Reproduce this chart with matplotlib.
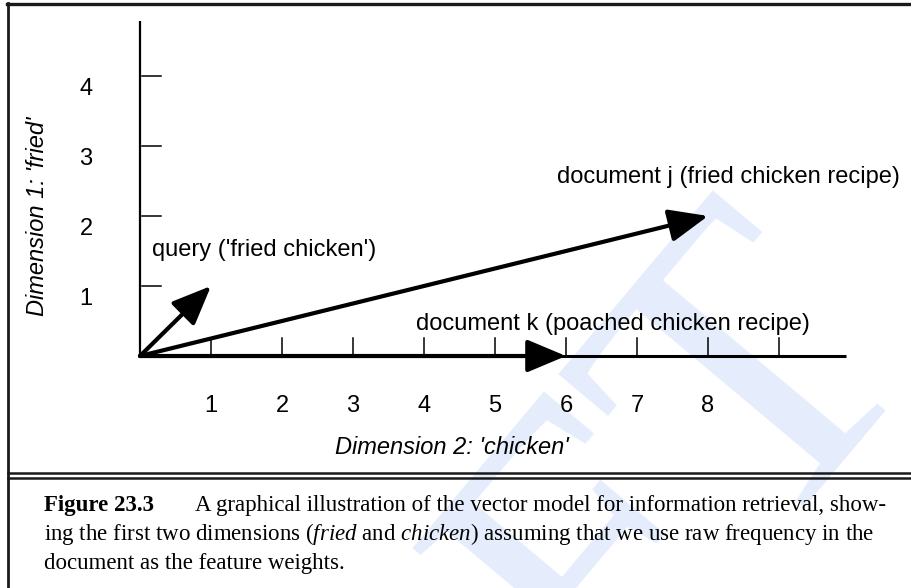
import matplotlib
matplotlib.use("Agg")
import matplotlib.pyplot as plt
from matplotlib.lines import Line2D

# vectors (chicken count, fried count)
vec_names = ["query ('fried chicken')", "document j (fried chicken recipe)",
             "document k (poached chicken recipe)"]
chicken = [1, 8, 6]
fried = [1, 2, 0]

x_ticks = [1, 2, 3, 4, 5, 6, 7, 8, 9]
x_tick_labels = ["1", "2", "3", "4", "5", "6", "7", "8"]
y_ticks = [1, 2, 3, 4]
y_tick_labels = ["1", "2", "3", "4"]

W, H = 911, 588
fig = plt.figure(figsize=(W / 100, H / 100), dpi=100)
fig.patch.set_facecolor("white")

plt.rcParams["mathtext.fontset"] = "custom"
plt.rcParams["mathtext.it"] = "Liberation Serif:italic"

# axes filling the figure, origin at pixel (140, 356), ~71 px per unit
ox, oy, ux, uy = 140, 356, 71, 70
ax = fig.add_axes([0, 0, 1, 1])
ax.set_xlim(-ox / ux, (W - ox) / ux)
ax.set_ylim((oy - H) / uy, oy / uy)
ax.axis("off")

# DRAFT watermark (behind everything)
ax.text(0.758, 0.195, "FT", family="Liberation Serif", fontsize=300,
        color="#e5ecfc", rotation=50, ha="center", va="center",
        transform=fig.transFigure, zorder=0)

sans = "Liberation Sans"
fs = 17

# axes lines
ax.plot([0, 9.94], [0, 0], color="black", lw=2.2, solid_capstyle="butt", zorder=3)
ax.plot([0, 0], [0, 4.78], color="black", lw=1.6, solid_capstyle="butt", zorder=3)

for t in x_ticks:
    ax.plot([t, t], [0, 0.26], color="black", lw=1.1, zorder=3)
for t in y_ticks:
    ax.plot([0.03, 0.3], [t, t], color="black", lw=1.1, zorder=3)

for i, lab in enumerate(x_tick_labels):
    ax.text(x_ticks[i], -0.71, lab, family=sans, fontsize=fs, ha="center", va="center")
for i, lab in enumerate(y_tick_labels):
    ax.text(-0.76, y_ticks[i] - 0.19, lab, family=sans, fontsize=fs, ha="center", va="center")

ax.text(4.39, -1.3, "Dimension 2: 'chicken'", family=sans, style="italic",
        fontsize=fs, ha="center", va="center")
ax.text(-1.44, 1.99, "Dimension 1: 'fried'", family=sans, style="italic",
        fontsize=fs, ha="center", va="center", rotation=90)

# vectors
for c, f in zip(chicken, fried):
    ax.annotate("", xy=(c, f), xytext=(0, 0),
                arrowprops=dict(arrowstyle="-|>,head_length=1.0,head_width=0.42",
                                lw=3.0, color="black", mutation_scale=24,
                                shrinkA=0, shrinkB=0), zorder=4)

label_pos = [(0.17, 1.51), (5.87, 2.56), (3.89, 0.46)]
for name, (lx, ly) in zip(vec_names, label_pos):
    ax.text(lx, ly, name, family=sans, fontsize=fs, ha="left", va="center", zorder=5)

# frame lines (pixel coords)
def hline(y, x0, x1, lw):
    fig.add_artist(Line2D([x0 / W, x1 / W], [1 - y / H, 1 - y / H], color="#1a1a1a",
                          lw=lw, transform=fig.transFigure))

def vline(x, y0, y1, lw):
    fig.add_artist(Line2D([x / W, x / W], [1 - y0 / H, 1 - y1 / H], color="#1a1a1a",
                          lw=lw, transform=fig.transFigure))

hline(4, 7, W, 2.4)
vline(8, 3, H, 2.0)
hline(472.5, 8, W, 1.8)
hline(477.5, 8, W, 1.8)

# caption
serif = "Liberation Serif"
cfs = 16.5
fig.text(44 / W, 1 - 505 / H, "Figure 23.3", family=serif, weight="bold",
         fontsize=cfs, ha="left", va="center")
fig.text(195 / W, 1 - 505 / H,
         "A graphical illustration of the vector model for information retrieval, show-",
         family=serif, fontsize=cfs, ha="left", va="center")
fig.text(44 / W, 1 - 534 / H,
         "ing the first two dimensions ($\\mathit{fried}$ and $\\mathit{chicken}$) assuming that we use raw frequency in the",
         family=serif, fontsize=cfs, ha="left", va="center")
fig.text(44 / W, 1 - 563 / H, "document as the feature weights.",
         family=serif, fontsize=cfs, ha="left", va="center")

fig.savefig("out.png", dpi=100)
